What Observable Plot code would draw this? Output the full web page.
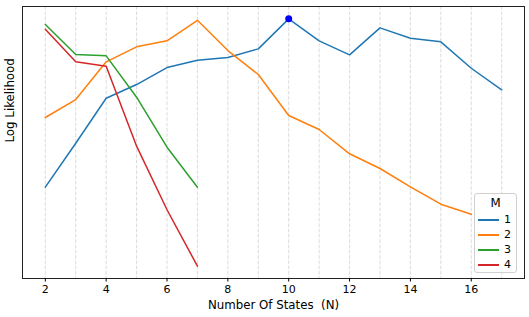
<!DOCTYPE html>
<html>
<head>
<meta charset="utf-8">
<script src="https://cdn.jsdelivr.net/npm/d3@7"></script>
<script src="https://cdn.jsdelivr.net/npm/@observablehq/plot@0.6"></script>
<style>
  body { margin: 0; background: #fff; font-family: "DejaVu Sans", sans-serif; }
  #wrap { position: relative; width: 529px; height: 317px; }
  #legend {
    position: absolute; left: 474px; top: 193px; width: 43px; height: 80px;
    border: 1px solid #d0d0d0; border-radius: 3px; background: rgba(255,255,255,0.85);
    font-family: "DejaVu Sans", sans-serif; font-size: 11px; color: #000; box-sizing: border-box;
  }
  #legend .title { text-align: center; font-size: 11.8px; margin-top: 1px; height: 17px; line-height: 17px; }
  #legend .row { position: relative; height: 15px; line-height: 15px; }
  #legend .sw { position: absolute; left: 3px; top: 7px; width: 21px; height: 0; border-top: 2px solid; }
  #legend .lab { position: absolute; left: 29px; top: 0; }
</style>
</head>
<body>
<div id="wrap"></div>
<script>
const states = [2, 3, 4, 5, 6, 7, 8, 9, 10, 11, 12, 13, 14, 15, 16, 17];
const seriesNames = ["1", "2", "3", "4"];
const colors = ["#1f77b4", "#ff7f0e", "#2ca02c", "#d62728"];
const llM1 = [-1867, -1427, -977, -840, -670, -597, -570, -483, -183, -403, -543, -273, -377, -413, -677, -893];
const llM2 = [-1170, -990, -613, -463, -403, -197, -500, -740, -1150, -1290, -1533, -1680, -1863, -2037, -2137];
const llM3 = [-240, -540, -553, -967, -1467, -1867];
const llM4 = [-287, -613, -657, -1457, -2093, -2657];
const xTicks = [2, 4, 6, 8, 10, 12, 14, 16];
const xLabel = "Number Of States  (N)";
const yLabel = "Log Likelihood";
const bestN = 10;

const allSeries = [llM1, llM2, llM3, llM4];
const rows = [];
allSeries.forEach((vals, i) => vals.forEach((v, j) => rows.push({M: seriesNames[i], N: states[j], ll: v})));
const best = rows.filter(d => d.M === "1" && d.N === bestN);

const [ymin, ymax] = d3.extent(rows, d => d.ll);
const ypad = (ymax - ymin) * 0.05;
const xpad = (d3.max(states) - d3.min(states)) * 0.05;

const chart = Plot.plot({
  width: 529,
  height: 317,
  marginLeft: 22,
  marginRight: 5,
  marginTop: 6,
  marginBottom: 39,
  style: { fontFamily: "DejaVu Sans, sans-serif", fontSize: "11px", color: "#000", background: "#fff" },
  x: { domain: [d3.min(states) - xpad, d3.max(states) + xpad] },
  y: { domain: [ymin - ypad, ymax + ypad] },
  color: { domain: seriesNames, range: colors },
  marks: [
    Plot.ruleX(states, { stroke: "#d3d3d3", strokeWidth: 0.8, strokeDasharray: "3.7,1.6" }),
    Plot.line(rows, { x: "N", y: "ll", z: "M", stroke: "M", strokeWidth: 1.5 }),
    Plot.dot(best, { x: "N", y: "ll", r: 3.5, fill: "#0000ff", stroke: "none" }),
    Plot.frame({ stroke: "#222", strokeWidth: 1 }),
    Plot.axisX({ ticks: xTicks, tickSize: 3.5, tickPadding: 3, fontSize: 11, label: null, tickFormat: d => String(d) }),
    Plot.axisY({ ticks: [], label: null }),
    Plot.text([xLabel], { frameAnchor: "bottom", dy: 30, fontSize: 11.8, fill: "#000" }),
    Plot.text([yLabel], { frameAnchor: "left", dx: -12, rotate: -90, fontSize: 11.8, fill: "#000" })
  ]
});

const wrap = document.getElementById("wrap");
wrap.appendChild(chart);

const legend = document.createElement("div");
legend.id = "legend";
let html = '<div class="title">M</div>';
seriesNames.forEach((name, i) => {
  html += `<div class="row"><span class="sw" style="border-color:${colors[i]}"></span><span class="lab">${name}</span></div>`;
});
legend.innerHTML = html;
wrap.appendChild(legend);
</script>
</body>
</html>
